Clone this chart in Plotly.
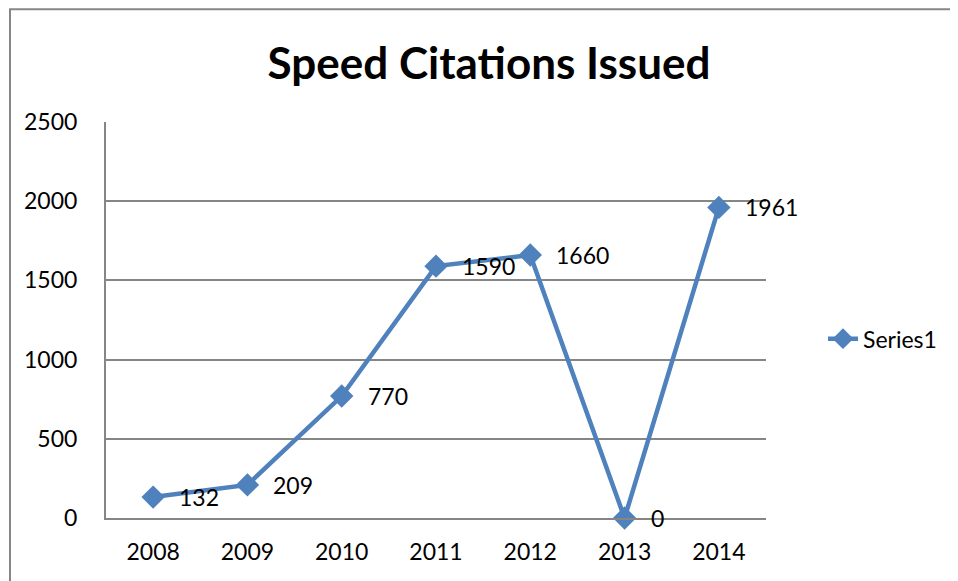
import plotly.graph_objects as go

years = ["2008", "2009", "2010", "2011", "2012", "2013", "2014"]
citations = [132, 209, 770, 1590, 1660, 0, 1961]
y_ticks = [0, 500, 1000, 1500, 2000, 2500]

FONT = "Lato, 'Open Sans', Arial, sans-serif"
BLUE = "#4F81BD"
GRID = "#868686"

L, R, T, B = 98, 200, 114, 70.5
PW = 958 - L - R
PH = 581 - T - B

fig = go.Figure()
fig.add_trace(go.Scatter(
    x=years, y=citations, mode="lines+markers", name="Series1",
    line=dict(color=BLUE, width=4.5),
    marker=dict(symbol="diamond", size=18, color=BLUE),
    cliponaxis=False,
))

for i, yv in enumerate(citations):
    fig.add_annotation(x=i, y=yv, text=str(yv), showarrow=False,
                       xref="x", yref="y",
                       xanchor="left", yanchor="middle", xshift=24,
                       font=dict(family=FONT, size=23, color="black"))

# outer chart frame (left and top edges visible)
fig.add_shape(type="rect", xref="paper", yref="paper",
              x0=(2 - L) / PW, x1=1.5, y0=-0.5, y1=1 + (T - 1) / PH,
              line=dict(color="#878787", width=2), layer="below")

fig.update_layout(
    width=958, height=581,
    margin=dict(l=L, r=R, t=T, b=B),
    paper_bgcolor="white", plot_bgcolor="white",
    title=dict(text="<b>Speed Citations Issued</b>", x=(481) / 958, xref="container",
               xanchor="center", y=1 - 56 / 581, yref="container", yanchor="middle",
               font=dict(family=FONT, size=44, color="black")),
    font=dict(family=FONT, size=23, color="black"),
    showlegend=True,
    legend=dict(x=(821 - 6 - L) / PW, y=(581 - B - (338 - 7)) / PH,
                xanchor="left", yanchor="middle",
                font=dict(family=FONT, size=23, color="black"),
                bgcolor="rgba(0,0,0,0)"),
    xaxis=dict(type="category", range=[-0.5, 6.5], showgrid=False,
               showline=True, linecolor=GRID, linewidth=2,
               ticks="", ticklabelstandoff=12, zeroline=False),
    yaxis=dict(range=[0, 2500], tickvals=y_ticks, showgrid=True,
               gridcolor=GRID, gridwidth=1.5, showline=True,
               linecolor=GRID, linewidth=2, ticks="",
               ticklabelstandoff=22, zeroline=False),
)

fig.write_html("out.html")
